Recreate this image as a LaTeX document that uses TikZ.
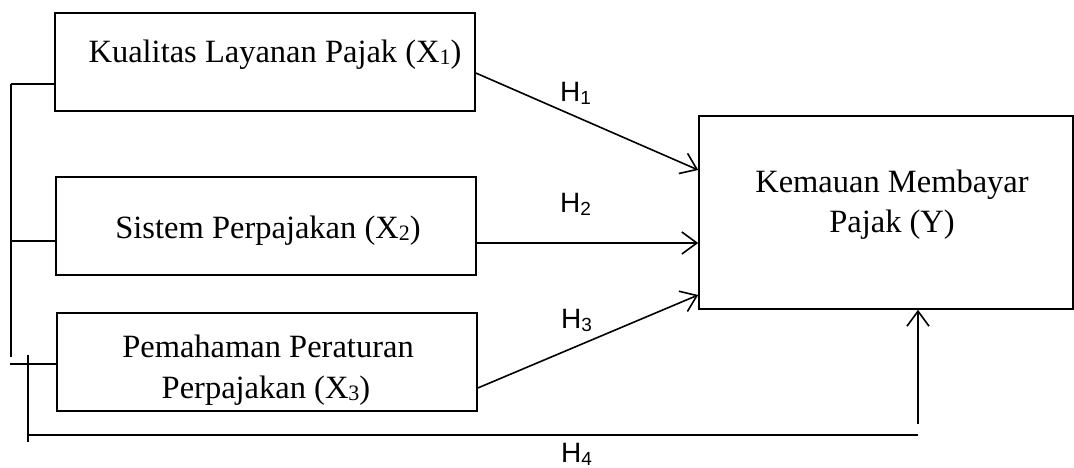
\documentclass[tikz,border=0pt]{standalone}
\usepackage{fontspec}
\setmainfont{Liberation Serif}
\newfontfamily\hfont{Liberation Sans}
\usetikzlibrary{calc, arrows.meta}
\newcommand{\subidx}[1]{{\fontsize{22}{22}\selectfont\raisebox{-2pt}{#1}}}
\newcommand{\hsub}[1]{{\fontsize{19}{19}\selectfont\raisebox{-3pt}{#1}}}
\tikzset{
  varbox/.style={draw, line width=1.6pt, minimum width=420pt, minimum height=98pt, inner sep=0pt},
  vartext/.style={anchor=base, inner sep=0pt, font=\fontsize{32.5}{38}\selectfont},
  hlabel/.style={anchor=base west, inner sep=0pt, font=\hfont\fontsize{28}{28}\selectfont},
  link/.style={line width=1.6pt},
  hyp/.style={line width=1.6pt, -{Straight Barb[length=15pt, width=22pt, line width=1.6pt]}}
}
\begin{document}
\begin{tikzpicture}[x=1pt, y=-1pt]
                \useasboundingbox (0,0) rectangle (1074,468);
                \node[varbox] (X1) at (265,62) {};
                \node[varbox] (X2) at (266,226) {};
                \node[varbox] (X3) at (267,362) {};
                \node[varbox, minimum width=374pt, minimum height=193pt] (Y) at (886,212.5) {};
                \node[vartext] (tX1) at (275,63) {Kualitas Layanan Pajak (X\subidx{1})};
                \node[vartext] (tX2) at (268,238) {Sistem Perpajakan (X\subidx{2})};
                \node[vartext] (tX3a) at (268,357) {Pemahaman Peraturan};
                \node[vartext] (tX3b) at (266,398) {Perpajakan (X\subidx{3})};
                \node[vartext] (tYa) at (892,193) {Kemauan Membayar};
                \node[vartext] (tYb) at (892,233) {Pajak (Y)};
                \coordinate (L1) at (11,84);
                \coordinate (L2) at (11,241);
                \coordinate (L3) at (10,364);
                \coordinate (Lend) at (11,357);
                \draw[link] (L1) -- (Lend);
                \draw[link] (L1) -- (X1.west |- L1);
                \draw[link] (L2) -- (X2.west |- L2);
                \draw[link] (L3) -- (X3.west |- L3);
                \draw[hyp] ($(X1.east)+(0,11)$) -- ($(Y.west)+(0,-42.5)$);
                \draw[hyp] ($(X2.east)+(0,17)$) -- (Y.west |- 0,243);
                \draw[hyp] ($(X3.east)+(0,26)$) -- (Y.west |- 0,295);
                \coordinate (B1) at (28,355);
                \coordinate (B2) at (28,442);
                \coordinate (B3) at (28,435);
                \coordinate (B4) at (918,435);
                \coordinate (B5) at (918,424);
                \draw[link] (B1) -- (B2);
                \draw[link] (B3) -- (B4);
                \draw[hyp] (B5) -- (Y.south -| B5);
                \node[hlabel] (H1) at (560,102) {H\hsub{1}};
                \node[hlabel] (H2) at (560,212) {H\hsub{2}};
                \node[hlabel] (H3) at (561,328) {H\hsub{3}};
                \node[hlabel] (H4) at (561,462) {H\hsub{4}};
\end{tikzpicture}
\end{document}
